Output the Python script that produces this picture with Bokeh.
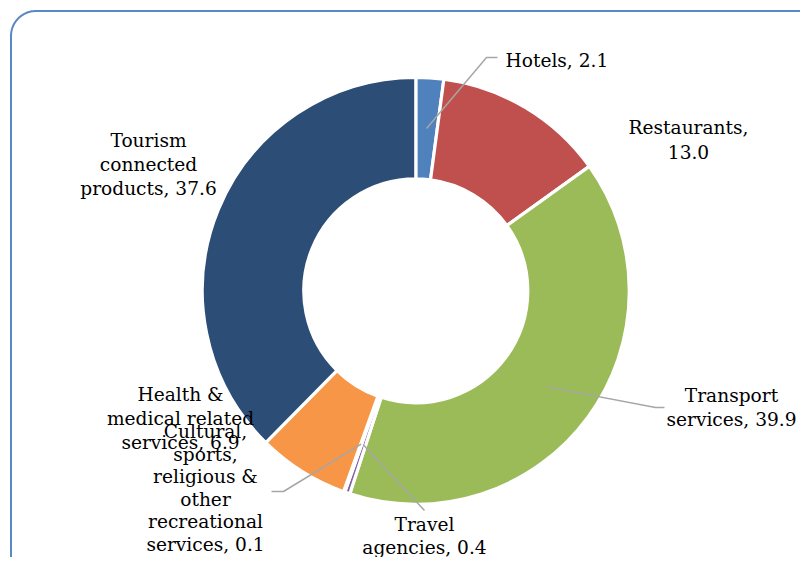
import numpy as np
from bokeh.plotting import figure
from bokeh.models import Range1d, ColumnDataSource
from bokeh.core.properties import value
from bokeh.embed import file_html
from bokeh.resources import INLINE

# ---- data ----
categories = ["Hotels", "Restaurants", "Transport services", "Travel agencies",
              "Cultural, sports, religious & other recreational services",
              "Health & medical related services", "Tourism connected products"]
shares = [2.1, 13.0, 39.9, 0.4, 0.1, 6.9, 37.6]
colors = ["#4F81BD", "#C0504D", "#9BBB59", "#8064A2", "#4BACC6", "#F79646", "#2C4D75"]
label_lines = [
    ["Hotels, 2.1"],
    ["Restaurants,", "13.0"],
    ["Transport", "services, 39.9"],
    ["Travel", "agencies, 0.4"],
    ["Cultural,", "sports,", "religious &", "other", "recreational", "services, 0.1"],
    ["Health &", "medical related", "services, 6.9"],
    ["Tourism", "connected", "products, 37.6"],
]

# ---- layout (canvas pixel coords; y is negated) ----
CX, CY = 415.3, 290.3
R_OUT, R_IN = 213.5, 112.0
FONT = "DejaVu Serif"
FS = "18.6px"
# label anchor: (x, y of first line, align, line height)
label_pos = [
    (505, 60, "left", 24.0),
    (688, 127, "center", 24.0),
    (731, 395, "center", 24.0),
    (424, 524, "center", 22.5),
    (205, 431, "center", 22.6),
    (180, 394, "center", 24.0),
    (148, 140, "center", 24.0),
]
# leader line bend/end points
leaders = {
    0: [(486, 57), (497, 57)],
    2: [(655, 407), (664, 407)],
    3: [(424, 510)],
    4: [(283, 491), (271, 491)],
}

W, H = 800, 557
p = figure(width=W, height=H, output_backend="svg", toolbar_location=None,
           x_range=Range1d(0, W), y_range=Range1d(-H, 0),
           min_border=0, outline_line_color=None, background_fill_color="white",
           border_fill_color="white")
p.axis.visible = False
p.grid.visible = False

# rounded border (top-left corner visible)
rr = 25.0
bx, by = 10.5, 10.5
th = np.linspace(np.pi, np.pi / 2, 30)
xs = list(bx + rr + rr * np.cos(th))
ys = list(by + rr - rr * np.sin(th))
xs = [bx] + xs + [820]
ys = [580] + ys + [by]
p.line(xs, [-y for y in ys], line_color="#5A87C5", line_width=2)

# donut
vals = np.array(shares)
cum = np.concatenate([[0], np.cumsum(vals)]) / vals.sum()
start = np.pi / 2 - cum[:-1] * 2 * np.pi
end = np.pi / 2 - cum[1:] * 2 * np.pi
src = ColumnDataSource(dict(start=start, end=end, color=colors, cat=categories))
p.annular_wedge(x=CX, y=-CY, inner_radius=R_IN, outer_radius=R_OUT,
                start_angle="start", end_angle="end", direction="clock",
                fill_color="color", line_color="white", line_width=3.2, source=src)

# leader lines
mid = np.pi / 2 - (cum[:-1] + cum[1:]) / 2 * 2 * np.pi
rm = (R_IN + R_OUT) / 2
for i, pts in leaders.items():
    lx = [CX + rm * np.cos(mid[i])] + [q[0] for q in pts]
    ly = [-(CY - rm * np.sin(mid[i]))] + [-q[1] for q in pts]
    p.line(lx, ly, line_color="#A6A6A6", line_width=1.5)

# labels
for i, lines in enumerate(label_lines):
    x0, y0, al, lh = label_pos[i]
    for k, t in enumerate(lines):
        p.text(x=[x0], y=[-(y0 + k * lh)], text=[t], text_align=al,
               text_baseline="middle", text_font=value(FONT), text_font_size=FS,
               text_color="#000000")

open("out.html", "w").write(file_html(p, INLINE))
